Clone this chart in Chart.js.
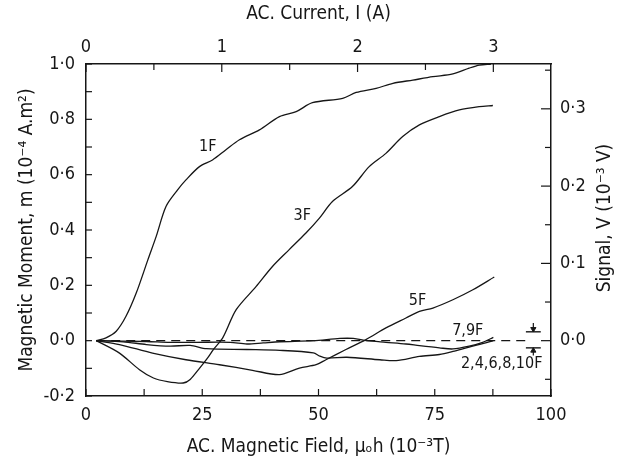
<!DOCTYPE html>
<html><head><meta charset="utf-8">
<script src="https://cdn.jsdelivr.net/npm/chart.js@4.4.1/dist/chart.umd.min.js"></script>
<style>html,body{margin:0;padding:0;background:#fff;}</style>
</head><body>
<canvas id="c" width="617" height="465"></canvas>
<script>
// ---- data (x: AC field, 10^-3 T; y: moment, 10^-4 A.m^2) ----
const f1X = [2.2, 4.3, 6.5, 8.6, 10.8, 13.3, 15.1, 17.2, 19.7, 21.5, 24.4, 27.2, 30.1, 33.0, 37.3, 41.6, 45.2, 48.7, 55.2, 58.1, 62.4, 66.0, 70.3, 74.6, 78.9, 82.4, 84.6, 87.1];
const f1Y = [0, 0.01, 0.034, 0.088, 0.172, 0.292, 0.377, 0.485, 0.545, 0.581, 0.629, 0.653, 0.69, 0.726, 0.762, 0.81, 0.828, 0.86, 0.876, 0.897, 0.912, 0.93, 0.942, 0.954, 0.964, 0.985, 0.996, 1.0];
const f3X = [2.2, 7.2, 11.5, 14.5, 17.5, 20.9, 22.4, 24.4, 26.0, 27.5, 29.4, 32.3, 36.6, 40.1, 43.7, 47.3, 50.2, 53.0, 57.3, 60.9, 64.5, 68.1, 71.7, 76.0, 80.3, 84.6, 87.5];
const f3Y = [0, -0.045, -0.105, -0.135, -0.148, -0.153, -0.14, -0.1, -0.066, -0.03, 0.01, 0.112, 0.196, 0.268, 0.329, 0.389, 0.443, 0.503, 0.557, 0.629, 0.677, 0.738, 0.78, 0.81, 0.834, 0.846, 0.85];
const f5X = [2.2, 7.2, 14.3, 21.5, 28.7, 35.8, 41.6, 45.9, 49.5, 51.6, 55.9, 60.2, 64.5, 68.8, 71.7, 74.6, 78.9, 83.2, 87.8];
const f5Y = [0, -0.014, -0.045, -0.069, -0.087, -0.107, -0.123, -0.099, -0.087, -0.069, -0.032, 0.004, 0.046, 0.082, 0.106, 0.118, 0.148, 0.184, 0.23];
const f79X = [2.2, 13.0, 18.0, 23.8, 31.0, 34.6, 38.1, 41.7, 48.9, 54.6, 57.5, 60.4, 64.5, 68.8, 71.7, 76.0, 78.9, 82.4, 85.3, 87.6];
const f79Y = [0, -0.003, -0.006, -0.006, -0.006, -0.012, -0.008, -0.004, 0, 0.008, 0.008, 0, -0.006, -0.012, -0.018, -0.026, -0.03, -0.02, -0.006, 0.012];
const fEvenX = [2.2, 8.0, 13.0, 18.1, 22.4, 25.9, 34.6, 41.7, 48.9, 50.3, 51.8, 56.1, 63.2, 66.7, 71.7, 76.0, 78.9, 82.4, 85.3, 87.6];
const fEvenY = [0, -0.004, -0.014, -0.02, -0.017, -0.029, -0.032, -0.035, -0.044, -0.056, -0.063, -0.06, -0.069, -0.072, -0.057, -0.05, -0.039, -0.023, -0.011, 0.0];
const zeroLineX = [2.2, 95.0];
const markerX = [94.6, 97.8];
const markerStemX = 96.2;
const markerUpper = [0.032, 0.064];   // bar level, stem top
const markerLower = [-0.026, -0.054]; // bar level, stem bottom

// curve labels: text and data position
const curveLabels = ["1F", "3F", "5F", "7,9F", "2,4,6,8,10F"];
const labelX = [26.2, 46.5, 71.3, 82.1, 89.4];
const labelY = [0.70, 0.45, 0.145, 0.036, -0.085];

// axes
const fieldTicks = [0, 25, 50, 75, 100];
const currentTicks = [0, 1, 2, 3];
const momentTicks = [-0.2, 0, 0.2, 0.4, 0.6, 0.8, 1.0];
const signalTicks = [0, 0.1, 0.2, 0.3];
const fieldPerAmp = 29.2;          // 1 A of current = 29.2 x 10^-3 T
const signalPerMoment = 0.358;     // right scale / left scale
const rightTitle = 'Signal, V (10\u207B\u00B3 V)';

const INK = '#161616';
const FONT = "'Liberation Sans Narrow', 'DejaVu Sans Condensed', 'Liberation Sans', sans-serif";
Chart.defaults.font.family = FONT;
Chart.defaults.color = INK;

const pts = (xs, ys) => xs.map((x, i) => ({x, y: ys[i]}));
const curve = (xs, ys) => ({data: pts(xs, ys), borderColor: INK, borderWidth: 1.3, pointRadius: 0, showLine: true, tension: 0.3, xAxisID: 'x', yAxisID: 'y'});
const fmt = v => (Math.round(v * 10) / 10).toFixed(1).replace('.', '\u00B7');

const datasets = [
  curve(f1X, f1Y), curve(f3X, f3Y), curve(f5X, f5Y), curve(f79X, f79Y), curve(fEvenX, fEvenY),
  {data: pts(zeroLineX, [0, 0]), borderColor: INK, borderWidth: 1.2, borderDash: [9, 6], pointRadius: 0, showLine: true, xAxisID: 'x', yAxisID: 'y'},
  {data: pts(markerX, [markerUpper[0], markerUpper[0]]), borderColor: INK, borderWidth: 1.4, pointRadius: 0, showLine: true, xAxisID: 'x', yAxisID: 'y'},
  {data: pts(markerX, [markerLower[0], markerLower[0]]), borderColor: INK, borderWidth: 1.4, pointRadius: 0, showLine: true, xAxisID: 'x', yAxisID: 'y'},
  {data: pts([markerStemX, markerStemX], [markerUpper[1], markerUpper[0]]), borderColor: INK, borderWidth: 1.2, pointRadius: 0, showLine: true, xAxisID: 'x', yAxisID: 'y'},
  {data: pts([markerStemX, markerStemX], [markerLower[1], markerLower[0]]), borderColor: INK, borderWidth: 1.2, pointRadius: 0, showLine: true, xAxisID: 'x', yAxisID: 'y'},
  {data: pts([markerStemX], [markerUpper[0] + 0.01]), pointStyle: 'triangle', rotation: 180, pointRadius: 3, backgroundColor: INK, borderColor: INK, showLine: false, xAxisID: 'x', yAxisID: 'y'},
  {data: pts([markerStemX], [markerLower[0] - 0.01]), pointStyle: 'triangle', rotation: 0, pointRadius: 3, backgroundColor: INK, borderColor: INK, showLine: false, xAxisID: 'x', yAxisID: 'y'}
];

const inwardTicks = {
  id: 'inwardTicks',
  afterDraw(chart) {
    const ctx = chart.ctx, a = chart.chartArea;
    ctx.save();
    ctx.strokeStyle = INK; ctx.lineWidth = 1.2;
    const marks = (id, step, len, majorEvery, majorLen) => {
      const s = chart.scales[id];
      const n0 = Math.ceil(s.min / step - 1e-6), n1 = Math.floor(s.max / step + 1e-6);
      for (let n = n0; n <= n1; n++) {
        const p = s.getPixelForValue(n * step);
        const L = (majorEvery && n % majorEvery === 0) ? majorLen : len;
        ctx.beginPath();
        if (s.position === 'left') { ctx.moveTo(a.left, p); ctx.lineTo(a.left + L, p); }
        if (s.position === 'right') { ctx.moveTo(a.right, p); ctx.lineTo(a.right - L, p); }
        if (s.position === 'bottom') { ctx.moveTo(p, a.bottom); ctx.lineTo(p, a.bottom - L); }
        if (s.position === 'top') { ctx.moveTo(p, a.top); ctx.lineTo(p, a.top + L); }
        ctx.stroke();
      }
    };
    marks('y', 0.1, 6, 0, 6);
    marks('y2', 0.05, 6, 2, 10);
    marks('x', 12.5, 7, 0, 7);
    marks('x2', 0.5, 6, 2, 8);
    ctx.fillStyle = INK;
    // curve labels
    ctx.font = "16px " + FONT;
    ctx.textAlign = 'center'; ctx.textBaseline = 'middle';
    const sx = chart.scales.x, sy = chart.scales.y;
    curveLabels.forEach((t, i) => ctx.fillText(t, sx.getPixelForValue(labelX[i]), sy.getPixelForValue(labelY[i])));
    // right axis title, reading bottom to top like the left one
    const r = chart.scales.y2;
    ctx.font = "19px " + FONT;
    ctx.translate(r.right - 12, (a.top + a.bottom) / 2 - 12);
    ctx.rotate(-Math.PI / 2);
    ctx.fillText(rightTitle, 0, 0);
    ctx.restore();
  }
};

const fixed = (w, h) => (s) => { if (w !== null) s.width = w; if (h !== null) s.height = h; };
const axisBase = {
  grid: {display: true, drawOnChartArea: false, drawTicks: false, color: INK},
  border: {display: true, color: INK, width: 1.5}
};

new Chart(document.getElementById('c'), {
  type: 'scatter',
  data: {datasets},
  options: {
    responsive: false, animation: false, devicePixelRatio: 1,
    layout: {padding: 0},
    plugins: {legend: {display: false}, tooltip: {enabled: false}},
    scales: {
      x: {...axisBase, type: 'linear', position: 'bottom', min: 0, max: 100,
        afterBuildTicks: s => { s.ticks = fieldTicks.map(v => ({value: v})); },
        ticks: {padding: 9, font: {size: 18}, callback: v => String(v)},
        title: {display: true, text: 'AC. Magnetic Field, \u03BC\u2092h (10\u207B\u00B3T)', font: {size: 19}, padding: {top: 0, bottom: 7}},
        afterFit: fixed(null, 69)},
      x2: {...axisBase, type: 'linear', position: 'top', min: 0, max: 100 / fieldPerAmp,
        afterBuildTicks: s => { s.ticks = currentTicks.map(v => ({value: v})); },
        ticks: {padding: 6, font: {size: 18}, callback: v => String(v)},
        title: {display: true, text: 'AC. Current, I (A)', font: {size: 19}, padding: {top: 3, bottom: 0}},
        afterFit: fixed(null, 64)},
      y: {...axisBase, type: 'linear', position: 'left', min: -0.2, max: 1.0,
        afterBuildTicks: s => { s.ticks = momentTicks.map(v => ({value: v})); },
        ticks: {padding: 11, font: {size: 18}, callback: v => (v < 0 ? '-' : '') + fmt(Math.abs(v))},
        title: {display: true, text: 'Magnetic Moment, m (10\u207B\u2074 A.m\u00B2)', font: {size: 19}, padding: {top: 16, bottom: 0}},
        afterFit: fixed(86, null)},
      y2: {...axisBase, type: 'linear', position: 'right', min: -0.2 * signalPerMoment, max: 1.0 * signalPerMoment,
        afterBuildTicks: s => { s.ticks = signalTicks.map(v => ({value: v})); },
        ticks: {padding: 9, font: {size: 18}, callback: v => fmt(v)},
        title: {display: false},
        afterFit: fixed(66, null)}
    }
  },
  plugins: [inwardTicks]
});
</script>
</body></html>
